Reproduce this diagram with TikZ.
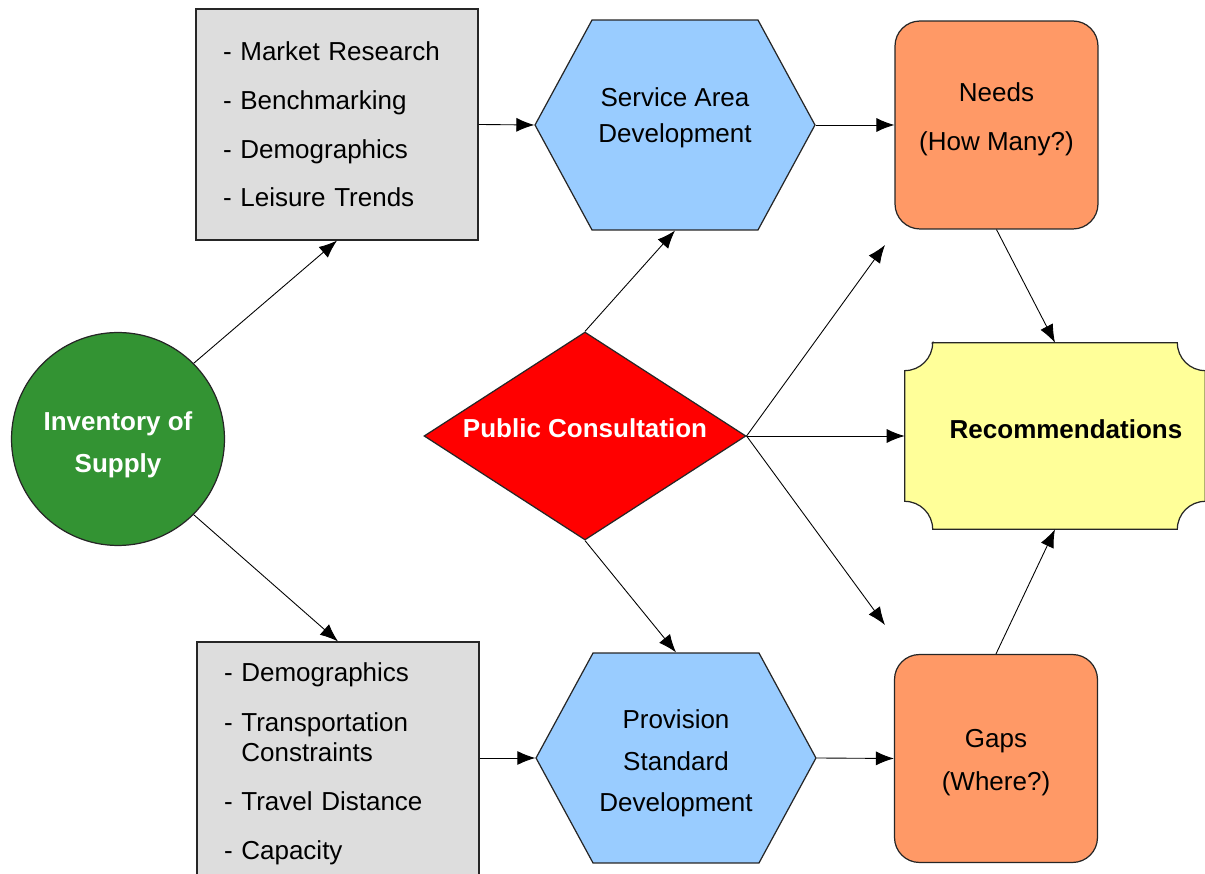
\documentclass[tikz,border=0pt]{standalone}
\usepackage{fontspec}
\setmainfont{Liberation Sans}
\usetikzlibrary{shapes.geometric,shapes.symbols,arrows.meta,backgrounds}

\definecolor{invgreen}{RGB}{51,147,51}
\definecolor{boxgray}{RGB}{221,221,221}
\definecolor{hexblue}{RGB}{153,204,255}
\definecolor{resorange}{RGB}{255,153,102}
\definecolor{recyellow}{RGB}{255,255,153}
\newcommand{\labelfont}{\fontsize{14.8}{17}\selectfont}

\begin{document}
\begin{tikzpicture}[x=0.02cm, y=-0.02cm, >={Latex[length=0.36cm,width=0.28cm]},
    font=\labelfont,
    link/.style={->, line width=0.5pt},
    graybox/.style={draw=black!85, line width=0.7pt, fill=boxgray,
                    text width=4.56cm, inner xsep=0.54cm, align=left},
    hexbox/.style={signal, signal to=east and west, signal pointer angle=123,
                   draw=black!85, line width=0.7pt, fill=hexblue,
                   minimum width=5.6cm, minimum height=4.2cm, inner sep=0pt, align=center},
    roundbox/.style={rectangle, rounded corners=0.5cm, draw=black!85, line width=0.7pt,
                     fill=resorange, minimum width=4.06cm, minimum height=4.16cm, align=center}]
  \useasboundingbox (0,0) rectangle (1205,874);
  \clip (0,0) rectangle (1205,874);

  \node (inv) at (118,439) [circle, draw=black!85, line width=0.7pt, fill=invgreen,
        minimum size=4.26cm, align=center, text=white, font=\labelfont\bfseries,
        text height=41pt]
    {Inventory of\\[7pt]Supply};

  \node (mr) at (337,124.5) [graybox, minimum height=4.62cm]
    {- Market Research\\[10.7pt]- Benchmarking\\[10.7pt]- Demographics\\[10.7pt]- Leisure Trends};
  \node (bx) at (338,764) [graybox, minimum height=4.88cm]
    {- Demographics\\[11pt]- Transportation\\\phantom{- }Constraints\\[11pt]- Travel Distance\\[11pt]- Capacity};

  \node (sa) at (675,125) [hexbox, text depth=11pt] {Service Area\\[3.5pt]Development};
  \node (psd) at (676,758) [hexbox, text height=64pt] {Provision\\[6.6pt]Standard\\[6.6pt]Development};

  \node (pc) at (585,436) [diamond, aspect=1.55, draw=black!85, line width=0.7pt, fill=red,
        minimum width=6.44cm, minimum height=4.16cm, inner sep=0pt,
        text=white, font=\labelfont\bfseries, text depth=9.5pt]
    {Public Consultation};

  \node (needs) at (996.5,125) [roundbox, text depth=10pt] {Needs\\[10.9pt](How Many?)};
  \node (gaps) at (996,758.5) [roundbox, text height=40pt] {Gaps\\[8pt](Where?)};

  \node (rec) at (1055,436) [minimum width=6cm, minimum height=3.72cm, font=\labelfont\bfseries,
        text depth=8pt]
    {\hspace*{0.44cm}Recommendations};
  \begin{scope}[on background layer]
    \filldraw[fill=recyellow, draw=black!85, line width=0.7pt]
      ([xshift=0.56cm]rec.north west) -- ([xshift=-0.56cm]rec.north east)
      arc[start angle=180, end angle=90, radius=28]
      -- ([yshift=0.56cm]rec.south east)
      arc[start angle=270, end angle=180, radius=28]
      -- ([xshift=0.56cm]rec.south west)
      arc[start angle=360, end angle=270, radius=28]
      -- ([yshift=-0.56cm]rec.north west)
      arc[start angle=90, end angle=0, radius=28] -- cycle;
  \end{scope}

  \coordinate (upend) at (885,245);
  \coordinate (downend) at (885,625);

  \draw[link] (inv.45) -- (mr.south);
  \draw[link] (inv.-45) -- (bx.north);
  \draw[link] (mr.east) -- (sa.west);
  \draw[link] (psd.west -| bx.east) -- (psd.west);
  \draw[link] (sa.east) -- (needs.west);
  \draw[link] (psd.east) -- (gaps.west);
  \draw[link] (pc.north) -- (sa.south);
  \draw[link] (pc.south) -- (psd.north);
  \draw[link] (pc.east) -- (upend);
  \draw[link] (pc.east) -- (rec.west);
  \draw[link] (pc.east) -- (downend);
  \draw[link] (needs.south) -- (rec.north);
  \draw[link] (gaps.north) -- (rec.south);
\end{tikzpicture}
\end{document}
